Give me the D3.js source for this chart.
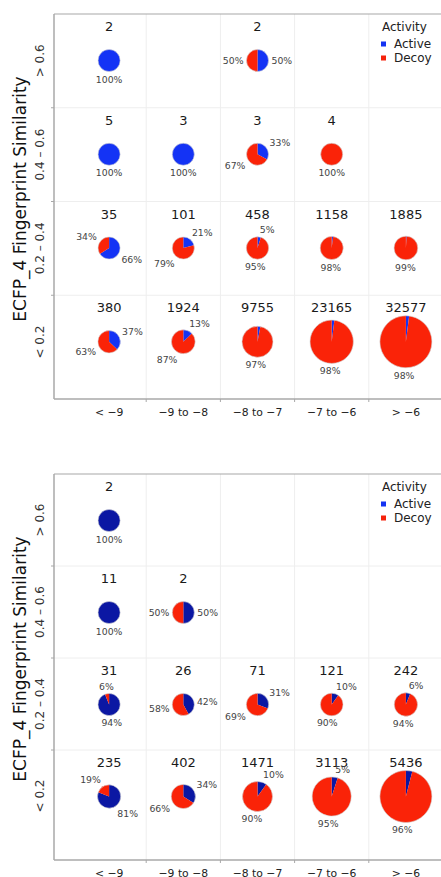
<!DOCTYPE html>
<html>
<head>
<meta charset="utf-8">
<script src="https://cdn.jsdelivr.net/npm/d3@7"></script>
<style>
  html, body { margin: 0; padding: 0; background: #fff; }
  svg { display: block; font-family: "DejaVu Sans", Verdana, sans-serif; }
</style>
</head>
<body>
<svg id="chart" width="441" height="877"></svg>
<script>
// Potency bins (x) and fingerprint similarity bins (y)
const columns = ["< \u22129", "\u22129 to \u22128", "\u22128 to \u22127", "\u22127 to \u22126", "> \u22126"];
const rows = ["> 0.6", "0.4 \u2013 0.6", "0.2 \u2013 0.4", "< 0.2"];
const legendLabels = ["Active", "Decoy"];
const yTitle = "ECFP_4 Fingerprint Similarity";

// Upper panel: compound counts per cell and % active
const countsTop = [
  [2, null, 2, null, null],
  [5, 3, 3, 4, null],
  [35, 101, 458, 1158, 1885],
  [380, 1924, 9755, 23165, 32577]
];
const activePctTop = [
  [100, null, 50, null, null],
  [100, 100, 33, 0, null],
  [66, 21, 5, 2, 1],
  [37, 13, 3, 2, 2]
];

// Lower panel: compound counts per cell and % active
const countsBottom = [
  [2, null, null, null, null],
  [11, 2, null, null, null],
  [31, 26, 71, 121, 242],
  [235, 402, 1471, 3113, 5436]
];
const activePctBottom = [
  [100, null, null, null, null],
  [100, 50, null, null, null],
  [94, 42, 31, 10, 6],
  [81, 34, 10, 5, 4]
];

const svg = d3.select("#chart");
const decoyColor = "#fa2308";
const legendColors = ["#1433f2", "#f5230c"];

function drawPanel(cfg, counts, pcts) {
  const g = svg.append("g");
  const left = 54, right = 443;
  const x = d3.scaleBand().domain(columns).range([72, right]);
  const y = d3.scaleBand().domain(rows).range([cfg.top, cfg.rowsBottom]);
  const maxN = d3.max(counts.flat());
  const r = d3.scaleLinear().domain([0, maxN]).range([11, 26]);
  const colors = [cfg.activeColor, decoyColor];

  // light grid between cells
  g.selectAll("line.vgrid").data(columns.slice(1)).join("line")
    .attr("x1", d => x(d)).attr("x2", d => x(d))
    .attr("y1", cfg.top).attr("y2", cfg.axisY)
    .attr("stroke", "#eeeeee").attr("stroke-width", 1);
  g.selectAll("line.hgrid").data(rows.slice(1)).join("line")
    .attr("x1", left).attr("x2", right)
    .attr("y1", d => y(d)).attr("y2", d => y(d))
    .attr("stroke", "#eeeeee").attr("stroke-width", 1);

  // frame
  const frame = "#a8a8a8";
  g.append("line").attr("x1", left).attr("x2", right).attr("y1", cfg.top).attr("y2", cfg.top)
    .attr("stroke", frame).attr("stroke-width", 1.2);
  g.append("line").attr("x1", left).attr("x2", left).attr("y1", cfg.top).attr("y2", cfg.axisY)
    .attr("stroke", frame).attr("stroke-width", 1.5);
  g.append("line").attr("x1", left).attr("x2", right).attr("y1", cfg.axisY).attr("y2", cfg.axisY)
    .attr("stroke", frame).attr("stroke-width", 1.5);

  // small ticks at cell boundaries
  g.selectAll("line.xt").data(columns.slice(1)).join("line")
    .attr("x1", d => x(d)).attr("x2", d => x(d))
    .attr("y1", cfg.axisY).attr("y2", cfg.axisY + 3)
    .attr("stroke", frame);
  g.selectAll("line.yt").data(rows.slice(1)).join("line")
    .attr("x1", left - 3).attr("x2", left)
    .attr("y1", d => y(d)).attr("y2", d => y(d))
    .attr("stroke", frame);

  // x axis labels
  const xAxis = g.append("g").attr("transform", `translate(0,${cfg.axisY})`)
    .call(d3.axisBottom(x).tickSize(0));
  xAxis.select(".domain").remove();
  xAxis.selectAll("text")
    .attr("y", 13).attr("dy", null)
    .attr("dominant-baseline", "central")
    .attr("font-family", "DejaVu Sans, sans-serif")
    .attr("font-size", 10.8).attr("fill", "#222");

  // y row labels
  g.selectAll("text.rowlab").data(rows).join("text")
    .attr("transform", d => `translate(40,${y(d) + y.bandwidth() / 2}) rotate(-90)`)
    .attr("text-anchor", "middle").attr("dominant-baseline", "central")
    .attr("font-size", 12).attr("fill", "#333")
    .text(d => d);

  // y title
  g.append("text")
    .attr("transform", `translate(20,${cfg.top + 185}) rotate(-90)`)
    .attr("text-anchor", "middle").attr("dominant-baseline", "central")
    .attr("font-size", 17).attr("fill", "#111")
    .text(yTitle);

  // legend
  const lg = g.append("g").attr("transform", `translate(381,${cfg.top})`);
  lg.append("text").attr("x", 1).attr("y", 13).attr("dominant-baseline", "central")
    .attr("font-size", 12).attr("fill", "#222").text("Activity");
  legendLabels.forEach((lab, i) => {
    lg.append("rect").attr("x", 0).attr("y", 27.5 + i * 14).attr("width", 5).attr("height", 5)
      .attr("fill", legendColors[i]);
    lg.append("text").attr("x", 13).attr("y", 30 + i * 14).attr("dominant-baseline", "central")
      .attr("font-size", 12).attr("fill", "#222").text(lab);
  });

  // cells
  const pie = d3.pie().sort(null).value(d => d);
  const cells = [];
  rows.forEach((row, ri) => columns.forEach((col, ci) => {
    const n = counts[ri][ci];
    if (n == null) return;
    cells.push({ row, col, n, active: pcts[ri][ci] });
  }));

  cells.forEach(c => {
    const cx = x(c.col) + x.bandwidth() / 2;
    const rowTop = y(c.row);
    const cy = rowTop + 46.5;
    const rad = r(c.n);

    g.append("text").attr("x", cx).attr("y", rowTop + 12.5)
      .attr("text-anchor", "middle").attr("dominant-baseline", "central")
      .attr("font-size", 13).attr("fill", "#1a1a1a").text(c.n);

    const slices = pie([c.active, 100 - c.active]);
    const arc = d3.arc().innerRadius(0).outerRadius(rad);
    const pg = g.append("g").attr("transform", `translate(${cx},${cy})`);
    pg.selectAll("path").data(slices.filter(s => s.value > 0)).join("path")
      .attr("d", arc).attr("fill", s => colors[s.index]);
    pg.append("circle").attr("r", rad).attr("fill", "none")
      .attr("stroke", "#d4d4d4").attr("stroke-width", 0.6);

    // percentage labels outside each slice (small shares left unlabelled)
    slices.forEach(s => {
      if (s.value < 5) return;
      const a = (s.startAngle + s.endAngle) / 2;
      const sx = Math.sin(a), cs = Math.cos(a);
      const d = rad + 3;
      const px = sx * d, py = -cs * d;
      let anchor;
      if (cs > 0) anchor = sx > 0.1 ? "start" : (sx < -0.3 ? "end" : "middle");
      else anchor = Math.abs(sx) < 0.35 ? "middle" : (sx > 0 ? "start" : "end");
      let ty = py;
      if (Math.abs(cs) >= 0.3) ty = cs > 0 ? py - 4.5 : py + 4.5;
      pg.append("text").attr("x", px).attr("y", ty)
        .attr("text-anchor", anchor).attr("dominant-baseline", "central")
        .attr("font-size", 9.3).attr("fill", "#444")
        .text(Math.round(s.value) + "%");
    });
  });
}

drawPanel({ top: 14, rowsBottom: 389, axisY: 399, activeColor: "#1433f5" }, countsTop, activePctTop);
drawPanel({ top: 474, rowsBottom: 842, axisY: 860, activeColor: "#0b17a3" }, countsBottom, activePctBottom);
</script>
</body>
</html>
